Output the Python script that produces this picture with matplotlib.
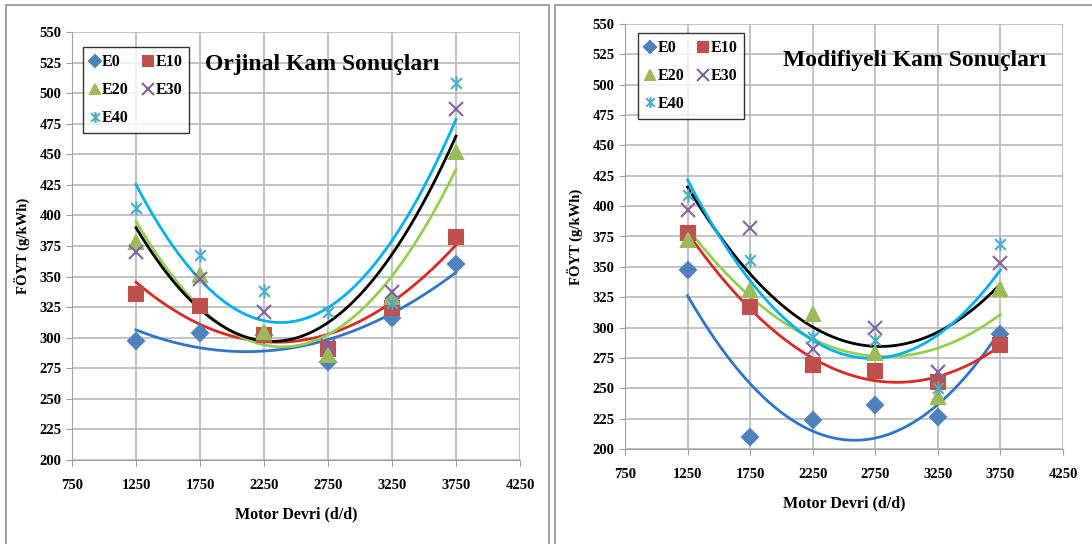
import numpy as np
import matplotlib
matplotlib.use("Agg")
import matplotlib.pyplot as plt
from matplotlib.path import Path
from matplotlib.patches import Rectangle

plt.rcParams['font.family'] = ['Liberation Serif', 'DejaVu Serif']
plt.rcParams['font.weight'] = 'bold'

rpm = [1250, 1750, 2250, 2750, 3250, 3750]
series_names = ["E0", "E10", "E20", "E30", "E40"]

# Orjinal kam
orj_e0 = [297, 304, 302, 280, 316, 360]
orj_e10 = [336, 326, 302, 291, 324, 382]
orj_e20 = [378, 351, 305, 286, 333, 452]
orj_e30 = [370, 348, 321, 293, 337, 487]
orj_e40 = [406, 368, 338, 321, 328, 508]

# Modifiyeli kam
mod_e0 = [347, 210, 224, 236, 226, 295]
mod_e10 = [378, 317, 269, 264, 255, 286]
mod_e20 = [372, 331, 311, 279, 243, 332]
mod_e30 = [397, 382, 282, 300, 263, 353]
mod_e40 = [409, 356, 292, 290, 250, 369]

xticks = [750, 1250, 1750, 2250, 2750, 3250, 3750, 4250]
yticks = list(range(200, 551, 25))

marker_colors = ["#4f81bd", "#c0504d", "#9bbb59", "#8064a2", "#4bacc6"]
line_colors = ["#2f74c8", "#d92a25", "#92d050", "#000000", "#00b0f0"]

star = Path([(-1, -1), (1, 1), (-1, 1), (1, -1), (0, -1.3), (0, 1.3)],
            [Path.MOVETO, Path.LINETO, Path.MOVETO, Path.LINETO, Path.MOVETO, Path.LINETO])
markers = ["D", "s", "^", "x", star]
msizes = [8, 9.5, 9.5, 10, 10]


def draw_panel(ax, data, title, title_xy, legend_pos):
    xs = np.linspace(rpm[0], rpm[-1], 200)
    handles = []
    for i, vals in enumerate(data):
        coef = np.polyfit(rpm, vals, 2)
        ax.plot(xs, np.polyval(coef, xs), color=line_colors[i], lw=2, zorder=3)
    for i, vals in enumerate(data):
        filled = markers[i] in ("D", "s", "^")
        h, = ax.plot(rpm, vals, linestyle="none", marker=markers[i], ms=msizes[i],
                     color=marker_colors[i], mec=marker_colors[i],
                     mfc=marker_colors[i] if filled else "none", mew=1.5, zorder=4,
                     label=series_names[i])
        handles.append(h)
    ax.set_xlim(750, 4250)
    ax.set_ylim(200, 550)
    ax.set_xticks(xticks)
    ax.set_yticks(yticks)
    ax.grid(True, color="#b8b8b8", lw=1.2)
    ax.set_axisbelow(True)
    for s in ax.spines.values():
        s.set_visible(False)
    ax.spines["left"].set_visible(True)
    ax.spines["left"].set_color("#a0a0a0")
    ax.spines["bottom"].set_visible(True)
    ax.spines["bottom"].set_color("#a0a0a0")
    ax.tick_params(colors="#a0a0a0", labelcolor="black", labelsize=10.5, length=4)
    for lab in ax.get_xticklabels() + ax.get_yticklabels():
        lab.set_fontweight("bold")
    ax.tick_params(axis="x", pad=10)
    ax.set_xlabel("Motor Devri (d/d)", fontsize=11.5, fontweight="bold", labelpad=10)
    ax.set_ylabel("FÖYT (g/kWh)", fontsize=10.5, fontweight="bold", labelpad=6)
    ax.text(title_xy[0], title_xy[1], title, transform=ax.transAxes, fontsize=17,
            fontweight="bold", ha="left", va="center", zorder=6)
    # row-wise legend order: E0 E10 / E20 E30 / E40
    order = [0, 2, 4, 1, 3]
    leg = ax.legend(handles=[handles[k] for k in order], ncol=2, loc="upper left",
                    bbox_to_anchor=legend_pos, borderaxespad=0, fontsize=11.5,
                    frameon=True, fancybox=False, edgecolor="black", handlelength=0.6,
                    handletextpad=0.15, columnspacing=0.9, borderpad=0.45,
                    labelspacing=0.75, markerscale=0.8)
    leg.get_frame().set_linewidth(1.0)
    for t in leg.get_texts():
        t.set_fontweight("bold")


fig = plt.figure(figsize=(10.92, 5.44), dpi=100)
fig.patches.append(Rectangle((6 / 1092, -0.05), 543 / 1092, 1.05 - 5 / 544,
                             transform=fig.transFigure, fill=False, ec="#909090", lw=1.2))
fig.patches.append(Rectangle((555 / 1092, -0.05), 0.6, 1.05 - 5 / 544,
                             transform=fig.transFigure, fill=False, ec="#909090", lw=1.2))

ax1 = fig.add_axes([72 / 1092, 1 - 460 / 544, 448 / 1092, 428 / 544])
ax2 = fig.add_axes([625 / 1092, 1 - 449 / 544, 438 / 1092, 425 / 544])

draw_panel(ax1, [orj_e0, orj_e10, orj_e20, orj_e30, orj_e40],
           "Orjinal Kam Sonuçları", (0.297, 0.925), (0.0246, 0.965))
draw_panel(ax2, [mod_e0, mod_e10, mod_e20, mod_e30, mod_e40],
           "Modifiyeli Kam Sonuçları", (0.36, 0.915), (0.030, 0.979))

fig.savefig("out.png", dpi=100)
